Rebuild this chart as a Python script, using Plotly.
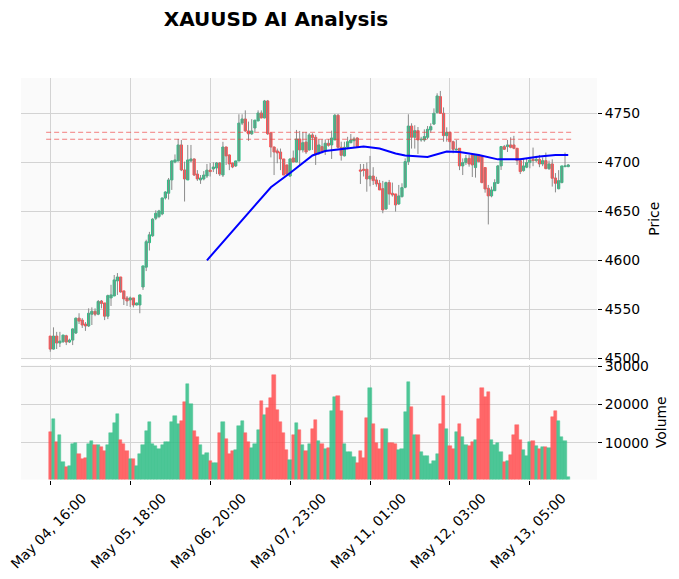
import plotly.graph_objects as go

tick_pos = [0, 25, 50, 75, 100, 125, 150]
tick_labels = ["May 04, 16:00", "May 05, 18:00", "May 06, 20:00", "May 07, 23:00",
               "May 11, 01:00", "May 12, 03:00", "May 13, 05:00"]

opens = [4522.7,4509.4,4522.7,4515.6,4517,4523,4516.6,4518.6,4525.8,4541,
4539,4535,4533,4545,4548,4545,4558.5,4556.5,4543,4561.6,
4563.6,4579,4583,4568.8,4561.6,4559.5,4561.6,4554.4,4554.4,4572.8,
4593,4618,4625,4642.9,4644.6,4647.3,4663.6,4668.4,4682,4700.3,
4701.4,4717.7,4692.2,4682,4701.4,4703.4,4688,4682,4683,4686,
4692,4693.2,4694.2,4699.3,4687,4715.6,4707.5,4699.3,4696.3,4701.4,
4740,4744.2,4732,4729,4735,4742.2,4750.3,4745.2,4762.6,4730,
4715.6,4711.6,4710.5,4703.4,4697.3,4686,4704.4,4700.3,4723.8,4712.6,
4720.7,4712.6,4727.9,4725.5,4709.2,4716,4711.6,4719.4,4717.7,4722.8,
4748,4715.3,4706.5,4715.3,4720,4722,4724.8,4692.2,4692.9,4692.9,
4683,4686,4682,4678.6,4673.1,4652.4,4679.3,4668.4,4667.7,4657.5,
4665,4674.5,4700.7,4737,4725.5,4732.3,4722.8,4722.8,4725.5,4733,
4739,4750.7,4767,4750,4727.2,4730.6,4721,4712.6,4714.3,4696.3,
4699.7,4704,4707.5,4694.6,4707.5,4706.5,4694.6,4673.5,4665.7,4671,
4678.6,4696.3,4716,4716,4717.7,4717.7,4714.3,4701.7,4691.5,4695,
4699.7,4703,4701.7,4703,4698.3,4701.7,4693.5,4698.3,4684,4673,
4679.3,4695.6,4695.6]

highs = [4522.7,4531.6,4527,4527,4524,4524,4520,4530.5,4541.5,4546,
4541,4537,4551,4552,4551,4559.5,4559.5,4556.5,4565,4575,
4585,4587,4583,4568.8,4563.6,4563,4561.6,4556.5,4565,4594.3,
4621,4629,4643,4651,4651.5,4664,4670.5,4684,4702,4708,
4723.8,4722.8,4700.7,4717.7,4717.7,4704,4692,4687,4691,4698.3,
4699.3,4700,4700.3,4700.3,4720.9,4716,4708,4699.5,4701.4,4749,
4749,4753,4741.5,4744,4743.2,4753,4753,4763.6,4763.6,4730,
4716,4714,4714,4703.4,4697.5,4704,4712,4733,4732,4731,
4731,4729.6,4729.6,4728,4723.5,4723.5,4723.5,4723.5,4732.3,4749.3,
4749.3,4721,4721,4726,4728.9,4726,4725.5,4698.3,4698.3,4699.7,
4706.5,4695,4685.2,4682,4681,4680.3,4682,4679.3,4667.7,4676.9,
4678.6,4704,4749,4739.8,4737.8,4736,4726,4733.6,4737,4739.8,
4755,4770.4,4772.8,4756,4735.7,4731.3,4722,4722.8,4714.3,4704,
4707.5,4707.5,4709,4707.5,4708.5,4706.5,4694.6,4676.9,4675.2,4682.7,
4697.3,4716,4717.7,4722.8,4725.5,4727,4714.3,4704,4704,4704,
4705.8,4715,4706.5,4707.5,4705,4709.9,4701.7,4703,4689,4692,
4696.3,4709.9,4698.3]

lows = [4506.7,4509,4509.5,4511.5,4515.6,4513.5,4515.6,4513.5,4524.8,4535,
4531,4528,4532,4534,4543,4544,4551,4539,4540,4553.4,
4563.6,4564.7,4567,4554.4,4553.4,4552.4,4552,4554,4546,4569.8,
4589,4610,4624,4641,4643,4646,4662,4662,4671.8,4699,
4701,4691,4660,4682,4700,4686,4681,4678,4681.6,4684,
4685.5,4690,4688,4686,4685,4697.3,4692,4694,4695.2,4701,
4738,4731,4721.9,4728,4731,4742,4745,4745,4728,4705,
4687,4699,4692,4687,4686,4685,4700,4700,4697,4710,
4708.5,4712,4712.6,4697.3,4707.5,4709.2,4707.5,4716,4703.4,4722.8,
4714,4701.7,4706,4713.3,4719.4,4715.6,4715.3,4677.9,4685.5,4670,
4675.5,4676.8,4675.1,4671.8,4648,4651.4,4656.6,4665,4649.7,4656.5,
4664,4673.5,4697.3,4714,4714,4708.5,4721,4721,4723.5,4730.2,
4738,4750,4750,4721,4721,4712.6,4709.2,4712,4692,4687,
4697.3,4695.5,4685,4684.4,4700,4678.6,4669,4636.6,4664.3,4671,
4678,4692.2,4712.6,4710.5,4714.3,4713.3,4697.3,4688,4690.5,4694,
4693.9,4696,4700,4695,4696,4693,4692.2,4675.2,4669.3,4672.5,
4678.6,4695,4695]

closes = [4509.4,4522.7,4515.6,4517.6,4523.7,4516.6,4518.6,4530,4541,4538,
4534,4533,4546,4548,4545,4558,4556,4543,4564,4564.7,
4580,4583,4567.7,4560.6,4558.5,4561.6,4554.4,4556.5,4564.7,4594.3,
4619,4626,4642,4648,4650.4,4663.6,4669.7,4682,4701.4,4702.4,
4717.7,4692.2,4683,4702.4,4703.4,4687,4683,4684,4687,4692,
4690.5,4695.2,4699.3,4688,4715.6,4706.5,4698.3,4695.2,4701.4,4740,
4744.2,4732,4729,4732,4743,4750.3,4745.2,4762.6,4729,4715.6,
4710.5,4709.5,4703.4,4687,4688,4703.4,4700.3,4723.8,4712.6,4720,
4710.5,4727.9,4725.2,4708.5,4717.7,4711,4719.4,4717.3,4724.8,4748,
4715.3,4707.1,4715.3,4721,4722.8,4723.8,4716,4691,4691.8,4683,
4686,4681.3,4677.9,4671.8,4651.4,4679.3,4667.7,4666.7,4656.5,4665.7,
4674.2,4700.7,4737,4725.5,4732.3,4722.8,4723.5,4726.2,4733.7,4736.4,
4750,4767.7,4750,4727.2,4730.6,4721,4713.3,4713.3,4696.3,4699.7,
4704,4698.3,4697.3,4707.5,4700.7,4679.3,4672.8,4665.7,4671.8,4679.3,
4696.3,4716,4713.3,4717.7,4715.3,4714.3,4701.7,4690.5,4696.3,4699.7,
4702.4,4701.7,4703,4698.3,4701.7,4693.5,4698.3,4683.7,4678.6,4681.3,
4696.3,4696.3,4697.3]

volumes = [12700,16140,10090,11930,4830,3510,3770,9560,9820,6930,
5620,5880,9560,10350,9300,9300,8770,7720,9300,12460,
15090,17450,10610,9560,7720,5620,5620,3770,6930,9300,
12980,15350,9560,9040,8250,9300,10090,10090,15350,16930,
14820,15610,20610,25350,20090,12980,11400,9300,6670,7190,
5090,4560,4560,12460,15350,10880,6930,7720,7980,14300,
15610,12460,10090,8510,9560,13240,20880,17190,19030,21660,
27720,18510,15350,12460,7980,5350,11930,15090,13240,9300,
7720,9560,13510,15880,10350,9560,8250,8510,18240,21930,
22190,18240,9560,7460,7460,6140,4560,7720,5880,16400,
24300,14820,9820,8250,13510,13510,9820,9820,9560,7980,
8250,17980,25870,19300,11930,11930,7460,6400,6400,4300,
5090,6930,14820,22190,13510,9040,8250,12720,14820,11400,
9300,9040,10090,10610,16140,24300,21930,23240,10610,9300,
9820,7460,4830,5090,6670,11930,14560,10610,7980,6400,
10090,10350,9040,8250,8770,8770,8510,16670,18240,15610,
11400,10350,880]

avg_pos = [49,60,69,75,81,82,86,91,98,103,108,111,118,124,128,134,140,147,153,158,162]
avg_val = [4600,4641,4674.5,4689,4704.8,4707,4711.5,4713.6,4716,4714,4709,4707,4705.4,4711,4710.5,4707.5,4703,4703,4706,4707.5,4707.5]

level_pos = [-1.3, 163.5]
level_a = [4730.6, 4730.6]
level_b = [4723.5, 4723.5]

UP = "#2ebd85"
DOWN = "#ff4d4f"
x = list(range(len(closes)))
bar_colors = [UP if c >= o else DOWN for o, c in zip(opens, closes)]
body_hi = [max(o, c) for o, c in zip(opens, closes)]
body_lo = [min(o, c) for o, c in zip(opens, closes)]

wick_x, wick_y = [], []
for i, (h, l) in enumerate(zip(highs, lows)):
    wick_x += [i, i, None]
    wick_y += [l, h, None]

fig = go.Figure()
fig.add_trace(go.Scatter(x=wick_x, y=wick_y, mode="lines", xaxis="x", yaxis="y",
                         line=dict(color="#8a8a8a", width=1), hoverinfo="skip"))
fig.add_trace(go.Candlestick(
    x=x, open=opens, high=body_hi, low=body_lo, close=closes,
    increasing=dict(line=dict(color=UP, width=1), fillcolor=UP),
    decreasing=dict(line=dict(color=DOWN, width=1), fillcolor=DOWN),
    whiskerwidth=0, xaxis="x", yaxis="y"))
for lv in (level_a, level_b):
    fig.add_trace(go.Scatter(x=level_pos, y=lv, mode="lines", xaxis="x", yaxis="y",
                             line=dict(color="rgba(240,60,60,0.65)", width=1, dash="5px,3px")))
fig.add_trace(go.Scatter(x=avg_pos, y=avg_val, mode="lines", xaxis="x", yaxis="y",
                         line=dict(color="#0000ff", width=2)))
fig.add_trace(go.Bar(x=x, y=volumes, xaxis="x2", yaxis="y2", width=1,
                     marker=dict(color=bar_colors, opacity=0.85,
                                 line=dict(color=bar_colors, width=0.5))))

W, H = 679, 579
L, R = 21, 597
axis_font = dict(family="DejaVu Sans", size=13.9, color="black")
GRID = "#d3d3d3"
common_x = dict(range=[-9.16, 171], showgrid=True, gridcolor=GRID, gridwidth=1.2,
                zeroline=False, showline=False, tickmode="array", tickvals=tick_pos, automargin=False)
common_y = dict(side="right", showgrid=True, gridcolor=GRID, gridwidth=1.2, zeroline=False,
                showline=False, ticks="outside", ticklen=4, tickcolor="black",
                tickfont=axis_font, tickformat="d", automargin=False)
fig.update_layout(
    width=W, height=H, margin=dict(l=0, r=0, t=0, b=0), autosize=False,
    paper_bgcolor="white", plot_bgcolor="#fafafa", showlegend=False, bargap=0,
    boxmode="overlay", boxgap=0.0,
    font=dict(family="DejaVu Sans", color="black"),
    title=dict(text="<b>XAUUSD AI Analysis</b>", x=276 / W, xanchor="center", y=1 - 19 / H,
               yanchor="middle", font=dict(family="DejaVu Sans", size=20, color="black")),
    xaxis=dict(domain=[L / W, R / W], anchor="y", showticklabels=False, ticks="",
               rangeslider=dict(visible=False), **common_x),
    xaxis2=dict(domain=[L / W, R / W], anchor="y2", matches="x", ticks="outside", ticklen=4,
                tickcolor="black", ticktext=tick_labels, tickangle=-45, tickfont=axis_font,
                ticklabelshift=32, ticklabeloverflow="allow", **common_x),
    yaxis=dict(domain=[1 - 359.5 / H, 1 - 78 / H], range=[4498.8, 4786],
               tickvals=[4500, 4550, 4600, 4650, 4700, 4750],
               title=dict(text="Price", font=axis_font, standoff=10), **common_y),
    yaxis2=dict(domain=[1 - 479.5 / H, 1 - 365 / H], range=[350, 30370],
                tickvals=[10000, 20000, 30000],
                title=dict(text="Volume", font=axis_font, standoff=8), **common_y),
)
fig.write_html("out.html", config={"displayModeBar": False},
               post_script="document.body.style.margin='0';")
